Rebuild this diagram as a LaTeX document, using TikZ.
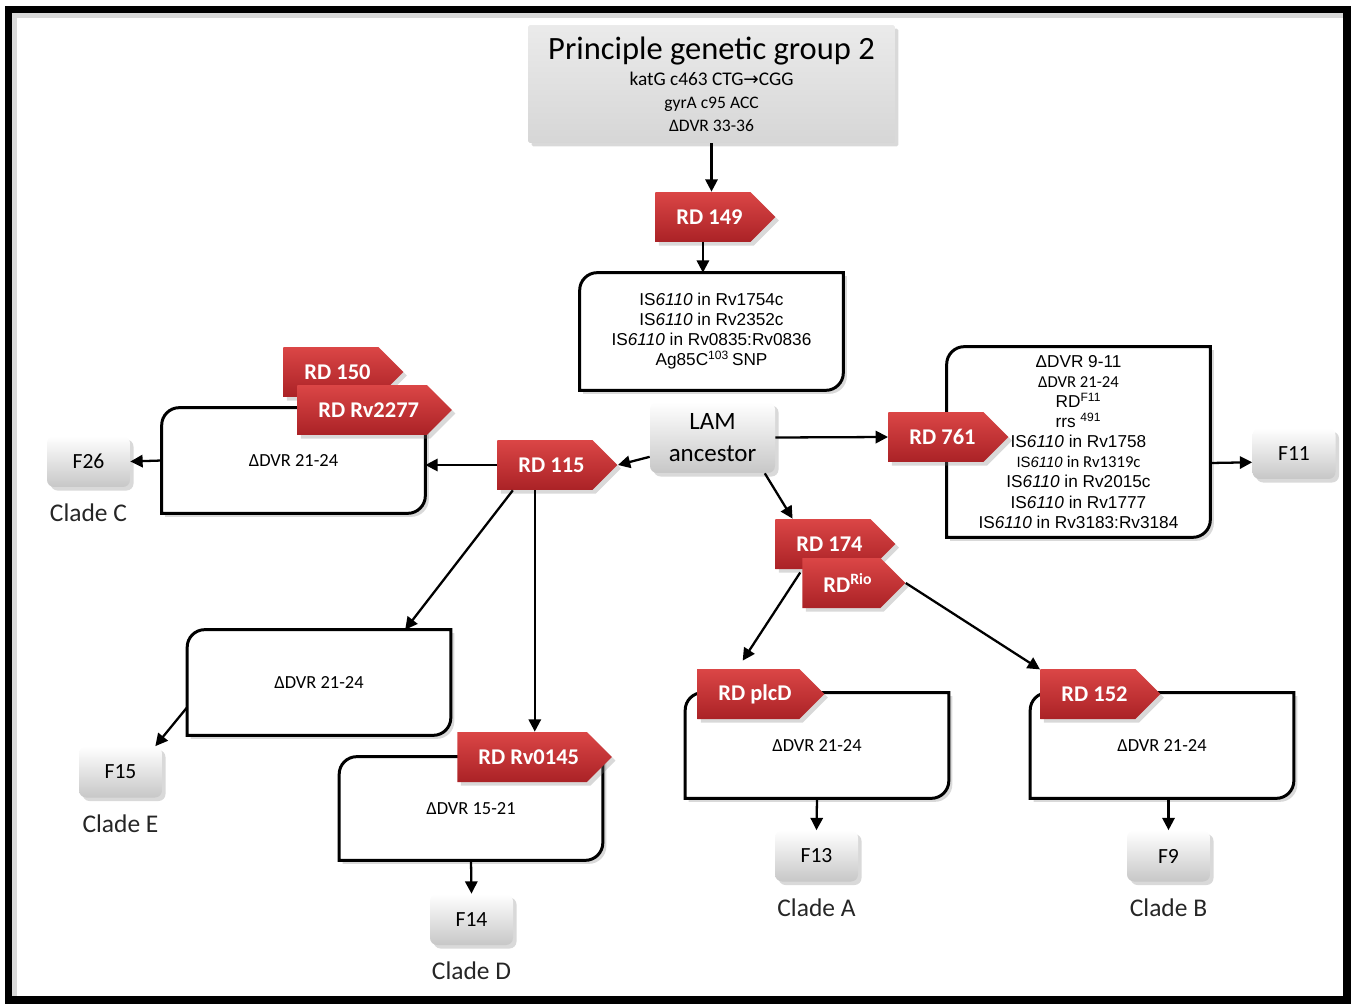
\documentclass[tikz,border=0pt]{standalone}
\usepackage{fontspec}
\setmainfont{Carlito}
\newfontfamily\arialfont{Liberation Sans}
\newfontfamily\arrowfont{DejaVu Sans}
\usetikzlibrary{arrows.meta,shapes.symbols,shadows}

\pgfdeclarelayer{background}
\pgfsetlayers{background,main}

\definecolor{rdtop}{HTML}{DB4646}
\definecolor{rdbottom}{HTML}{AA2226}

\newcommand\diagoutline[1]{%
  \draw[dvrline] (#1.north east) -- ([xshift=10pt]#1.north west)
    arc[start angle=90,end angle=180,radius=10pt] -- (#1.south west)
    -- ([xshift=-10pt]#1.south east)
    arc[start angle=270,end angle=360,radius=10pt] -- cycle;}

\tikzset{
  softshadow/.style={drop shadow={shadow xshift=2pt,shadow yshift=-2pt,opacity=0.3}},
  rdtag/.style={signal,signal to=east,signal pointer angle=90,anchor=west,
    top color=rdtop,bottom color=rdbottom,text=white,minimum height=1cm,
    inner xsep=4.5pt,font=\bfseries\fontsize{12.8}{14}\selectfont,softshadow,
    execute at begin node=\kern7.5pt},
  graybox/.style={rounded corners=4pt,top color=white,bottom color=black!22,
    minimum width=1.66cm,minimum height=1.02cm,softshadow},
  fnode/.style={graybox,font=\fontsize{12.3}{14}\selectfont},
  clade/.style={font=\fontsize{14.5}{16}\selectfont,text=black!85,label distance=6pt},
  dvrbox/.style={minimum width=5.26cm,minimum height=2.1cm,inner sep=0pt,
    font=\fontsize{10.5}{12}\selectfont},
  istext/.style={font=\arialfont\fontsize{9.8}{11.4}\selectfont,align=center},
  dvrline/.style={line width=1.7pt,fill=white,softshadow},
  link/.style={line width=1.3pt,-{Triangle[length=7pt,width=7pt]}},
}

\begin{document}
\begin{tikzpicture}[x=0.02cm,y=-0.02cm]
\useasboundingbox (0,0) rectangle (1354,1003);
\draw[line width=4.3pt] (9,9.5) rectangle (1347,1000);
\draw[black!15,line width=3pt] (14.5,996) -- (14.5,15.5) -- (1343,15.5);

\node[rounded corners=1pt,top color=black!8,bottom color=black!16,minimum width=7.34cm,
  minimum height=2.36cm,align=center,softshadow] (pgg) at (711.5,84)
  {\fontsize{18.5}{22}\selectfont Principle genetic group 2\\[3pt]
   \fontsize{11}{12.8}\selectfont katG c463 CTG{\arrowfont\fontsize{10.5}{10}\selectfont →}CGG\\[1pt]
   gyrA c95 ACC\\[1pt] ΔDVR 33-36};

\node[graybox,minimum width=2.5cm,minimum height=1.42cm,align=center,
  font=\fontsize{14.2}{18}\selectfont] (lam) at (712.5,437.5) {LAM\\ancestor};

\node[dvrbox,minimum height=2.34cm,istext] (isbox) at (711.5,331.5)
  {IS\textit{6110} in Rv1754c\\IS\textit{6110} in Rv2352c\\
   IS\textit{6110} in Rv0835:Rv0836\\Ag85C\textsuperscript{103}\,SNP};
\node[dvrbox,minimum height=3.8cm,istext] (f11box) at (1078.5,442)
  {ΔDVR 9-11\\{\normalfont\fontsize{9.5}{11.4}\selectfont ΔDVR 21-24}\\
   RD\textsuperscript{F11}\\rrs \textsuperscript{491}\\IS\textit{6110} in Rv1758\\
   {\fontsize{8.5}{11.4}\selectfont IS\textit{6110} {\normalfont\fontsize{9.5}{11.4}\selectfont in Rv1319c}}\\
   IS\textit{6110} in Rv2015c\\IS\textit{6110} in Rv1777\\IS\textit{6110} in Rv3183:Rv3184};
\node[dvrbox] (boxc) at (293.5,460.5) {ΔDVR 21-24};
\node[dvrbox] (boxe) at (319,682.5) {ΔDVR 21-24};
\node[dvrbox,minimum height=2.06cm] (boxd) at (471,808.5) {ΔDVR 15-21};
\node[dvrbox] (boxa) at (817,745.5) {ΔDVR 21-24};
\node[dvrbox] (boxb) at (1162,745.5) {ΔDVR 21-24};

\begin{pgfonlayer}{background}
\foreach \b in {isbox,f11box,boxc,boxe,boxd,boxa,boxb} {\diagoutline{\b}}
\end{pgfonlayer}

\node[fnode,label={[clade]below:Clade C}] (f26) at (88.5,461.5) {F26};
\node[fnode,label={[clade]below:Clade E}] (f15) at (120.5,772) {F15};
\node[fnode,label={[clade]below:Clade D}] (f14) at (471.5,919.5) {F14};
\node[fnode,label={[clade]below:Clade A}] (f13) at (816.5,856) {F13};
\node[fnode,label={[clade]below:Clade B}] (f9) at (1168.5,856) {F9};
\node[fnode] (f11) at (1294,453.5) {F11};

\node[rdtag] (rd149) at (655,217) {RD 149};
\node[rdtag] (rd150) at (283,372) {RD 150};
\node[rdtag] (rdrv2277) at (297,410) {RD Rv2277};
\node[rdtag] (rd115) at (497,465) {RD 115};
\node[rdtag] (rdrv0145) at (457,757) {RD Rv0145};
\node[rdtag] (rd761) at (888,437) {RD 761};
\node[rdtag] (rd174) at (775,544) {RD 174};
\node[rdtag] (rdrio) at (802,583) {RD\textsuperscript{Rio}};
\node[rdtag] (rdplcd) at (697,694) {RD plcD};
\node[rdtag] (rd152) at (1040,694) {RD 152};

\draw[link] (pgg.south) -- (pgg.south |- rd149.north);
\draw[link] (rd149.south) -- (rd149.south |- isbox.north);
\draw[link] ([yshift=-11pt]lam.west) -- (rd115.east);
\draw[link] (rd115.west) -- (rd115.west -| boxc.east);
\draw[link] (boxc.west) -- (f26.east);
\draw[link] ([xshift=9pt]rd115.south west) -- ([xshift=-26pt]boxe.north east);
\draw[link] ([xshift=21.5pt]rd115.south west) coordinate (drop) -- (drop |- rdrv0145.north);
\draw[link] ([yshift=16pt]boxe.south west) -- ([xshift=-4pt]f15.north east);
\draw[link] (boxd.south) -- (f14.north);
\draw[link] (lam.east) -- (rd761.west);
\draw[link] (f11box.east) ++(0,21) -- ([yshift=-5pt]f11.west);
\draw[link] ([xshift=-6pt]lam.south east) -- ([xshift=10pt]rd174.north west);
\draw[link] ([shift={(-1pt,6pt)}]rdrio.west) -- ([shift={(26pt,19pt)}]rdplcd.west);
\draw[link] (rdrio.east) -- ([yshift=14pt]rd152.west);
\draw[link] (boxa.south) -- (f13.north);
\draw[link] (f9.north |- boxb.south) -- (f9.north);
\end{tikzpicture}
\end{document}
